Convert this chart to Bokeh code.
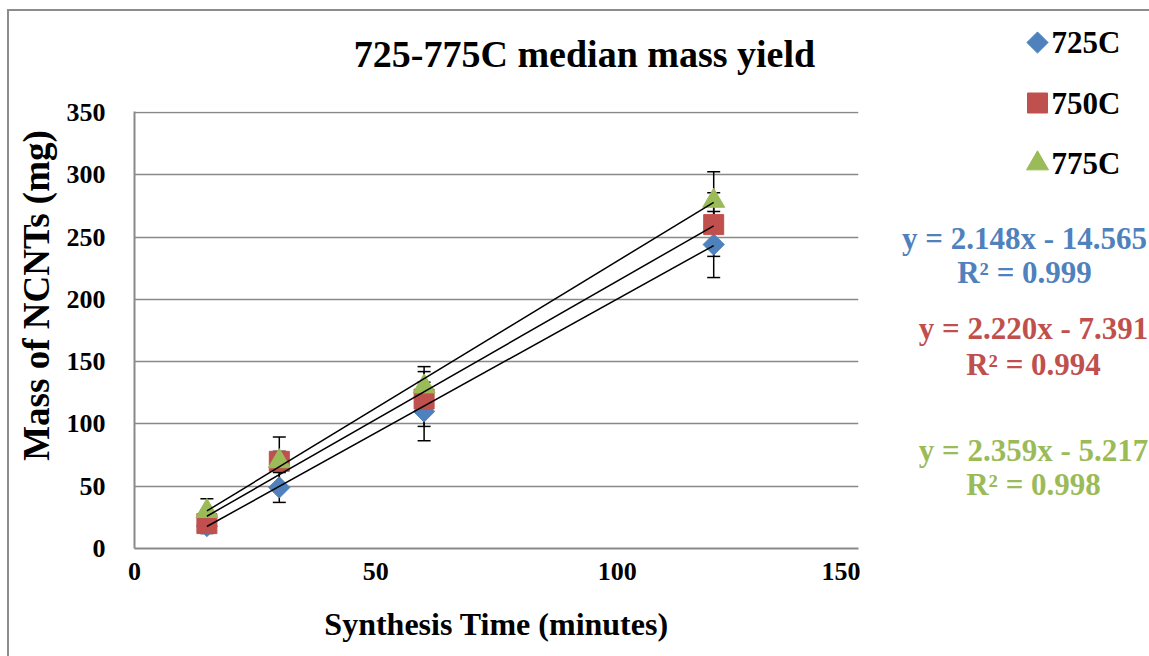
import math
from bokeh.plotting import figure
from bokeh.layouts import row, column
from bokeh.models import (ColumnDataSource, Range1d, Whisker, TeeHead, Label,
                          FixedTicker)
from bokeh.embed import file_html
from bokeh.resources import INLINE

# ---------------- data ----------------
times = [15, 30, 60, 120]
series_names = ["725C", "750C", "775C"]
mass_725 = [18, 49, 110, 244]
err_725 = [6, 12, 23.5, 26.5]
mass_750 = [20, 70, 120, 260]
err_750 = [5, 19.5, 22, 25.5]
mass_775 = [30, 70, 130, 279]
err_775 = [10, 8, 16, 23.5]
slopes = [2.148, 2.220, 2.359]
intercepts = [-14.565, -7.391, -5.217]
r_squared = [0.999, 0.994, 0.998]
fit_x = [15, 120]
x_ticks = [0, 50, 100, 150]
y_ticks = [0, 50, 100, 150, 200, 250, 300, 350]

colors = ["#4F81BD", "#C0504D", "#9BBB59"]
FONT = "Liberation Serif"
GRAY = "#898989"


def blank(width, height, xr, yr):
    f = figure(width=width, height=height, output_backend="svg", toolbar_location=None,
               x_range=Range1d(*xr), y_range=Range1d(*yr),
               x_axis_location=None, y_axis_location=None,
               min_border=0, outline_line_color=None, frame_align=False)
    f.grid.visible = False
    return f


# ---------------- main plot ----------------
p = figure(width=800, height=566, output_backend="svg", toolbar_location=None,
           x_range=Range1d(0, 150), y_range=Range1d(0, 350.8),
           min_border_left=74, min_border_right=2,
           min_border_top=21, min_border_bottom=108,
           x_axis_label="Synthesis Time (minutes)", frame_align=False)
p.outline_line_color = None
p.background_fill_color = "white"
p.border_fill_color = "white"

for ax, ticks in ((p.xaxis[0], x_ticks), (p.yaxis[0], y_ticks)):
    ax.ticker = FixedTicker(ticks=ticks)
    ax.major_tick_line_color = None
    ax.minor_tick_line_color = None
    ax.axis_line_color = GRAY
    ax.axis_line_width = 2
    ax.major_label_text_font = FONT
    ax.major_label_text_font_style = "bold"
    ax.major_label_text_font_size = "26px"
    ax.major_label_text_color = "black"
    ax.axis_label_text_font = FONT
    ax.axis_label_text_font_style = "bold"
    ax.axis_label_text_font_size = "32px"
    ax.axis_label_text_color = "black"
p.yaxis.major_label_standoff = 23
p.xaxis.major_label_standoff = 8
p.xaxis.axis_label_standoff = 23

p.xgrid.grid_line_color = None
p.ygrid.grid_line_color = GRAY
p.ygrid.grid_line_width = 1.5

masses = [mass_725, mass_750, mass_775]
errs = [err_725, err_750, err_775]
markers = ["square", "square", "triangle"]
angles = [math.pi / 4, 0, 0]
sizes = [15, 20, 22]

for i in range(3):
    src = ColumnDataSource(dict(
        x=times, y=masses[i],
        upper=[m + e for m, e in zip(masses[i], errs[i])],
        lower=[m - e for m, e in zip(masses[i], errs[i])]))
    w = Whisker(source=src, base="x", upper="upper", lower="lower",
                line_color="black", line_width=1.5, level="underlay",
                upper_head=TeeHead(size=13, line_color="black", line_width=1.5),
                lower_head=TeeHead(size=13, line_color="black", line_width=1.5))
    p.add_layout(w)
    p.scatter("x", "y", source=src, marker=markers[i], angle=angles[i],
              size=sizes[i], fill_color=colors[i], line_color=colors[i])

for i in range(3):
    fy = [slopes[i] * x + intercepts[i] for x in fit_x]
    p.line(fit_x, fy, line_color="black", line_width=1.5)

# ---------------- top strip: chart title ----------------
top = blank(851, 79, (9, 860), (90, 11))
top.add_layout(Label(x=584, y=53, text="725-775C median mass yield",
                     text_font=FONT, text_font_style="bold", text_font_size="38px",
                     text_color="black", text_align="center", text_baseline="middle"))

# ---------------- left strip: y axis title ----------------
left = blank(51, 566, (9, 60), (656, 90))
left.add_layout(Label(x=36, y=295, text="Mass of NCNTs (mg)", angle=math.pi / 2,
                      text_font=FONT, text_font_style="bold", text_font_size="37px",
                      text_color="black", text_align="center", text_baseline="middle"))

# ---------------- right strip: legend + trendline equations ----------------
side = blank(289, 645, (860, 1149), (656, 11))

LEG_X, LEG_Y0, LEG_DY, LEG_GAP = 1037, 42, 60.5, 14
for i in range(3):
    ly = LEG_Y0 + i * LEG_DY
    side.scatter(x=[LEG_X], y=[ly], marker=markers[i], angle=angles[i], size=sizes[i],
                 fill_color=colors[i], line_color=colors[i])
    side.add_layout(Label(x=LEG_X + LEG_GAP, y=ly, text=series_names[i], text_font=FONT,
                          text_font_style="bold", text_font_size="31px",
                          text_color="black", text_align="left",
                          text_baseline="middle"))

eq_pos = [(1024, 238, 272), (1033, 328, 364), (1033, 450, 484)]
for i in range(3):
    cx, y1, y2 = eq_pos[i]
    sign = "-" if intercepts[i] < 0 else "+"
    eq = f"y = {slopes[i]:.3f}x {sign} {abs(intercepts[i]):.3f}"
    r2 = f"R\u00b2 = {r_squared[i]:.3f}"
    for txt, yy in ((eq, y1), (r2, y2)):
        side.add_layout(Label(x=cx, y=yy, text=txt, text_font=FONT,
                              text_font_style="bold", text_font_size="31px",
                              text_color=colors[i], text_align="center",
                              text_baseline="middle"))

layout = row(column(top, row(left, p)), side,
             styles={"margin-left": "7px", "margin-top": "9px",
                     "border-left": "2px solid #8c8c8c",
                     "border-top": "2px solid #8c8c8c"})

open("out.html", "w").write(file_html(layout, INLINE))
